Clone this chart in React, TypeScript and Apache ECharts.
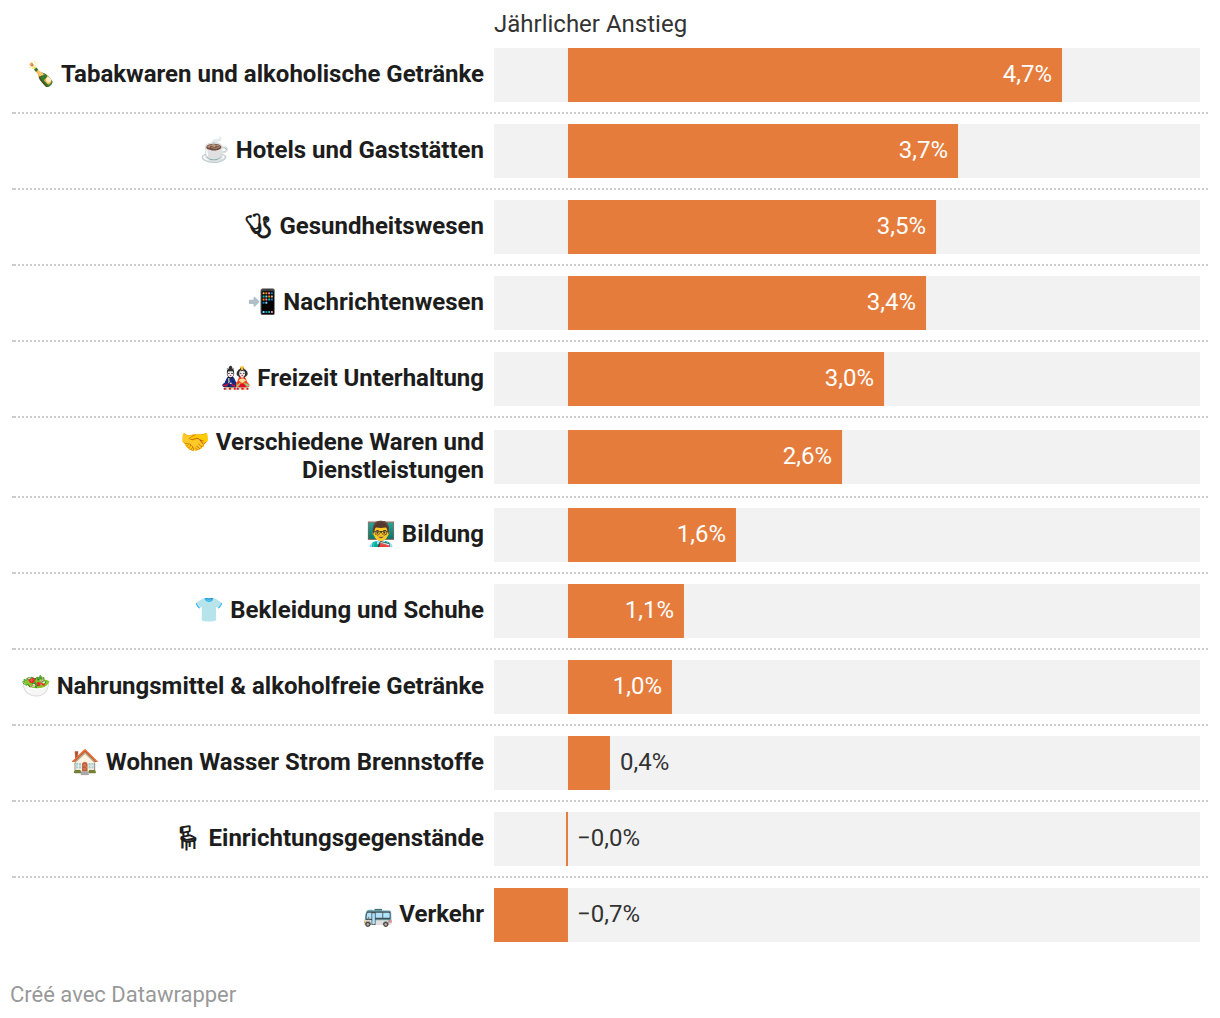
import React, { useEffect, useRef } from "react";
import * as echarts from "echarts";

const emojis = ["🍾", "☕", "🩺\uFE0E", "📲", "🎎", "🤝", "👨‍🏫", "👕", "🥗", "🏠", "🪑\uFE0E", "🚌"];
const categories = [
  "Tabakwaren und alkoholische Getränke",
  "Hotels und Gaststätten",
  "Gesundheitswesen",
  "Nachrichtenwesen",
  "Freizeit Unterhaltung",
  "Verschiedene Waren und\nDienstleistungen",
  "Bildung",
  "Bekleidung und Schuhe",
  "Nahrungsmittel & alkoholfreie Getränke",
  "Wohnen Wasser Strom Brennstoffe",
  "Einrichtungsgegenstände",
  "Verkehr",
];
const values = [4.741, 3.743, 3.532, 3.436, 3.033, 2.63, 1.612, 1.113, 0.998, 0.403, -0.019, -0.71];
const labels = ["4,7%", "3,7%", "3,5%", "3,4%", "3,0%", "2,6%", "1,6%", "1,1%", "1,0%", "0,4%", "−0,0%", "−0,7%"];
const INSIDE_FROM = 0.5;
const ROW_GROUPS = [[0, 5], [5, 6], [6, 12]];
const GRID_TOPS = [37, 417, 497];
const GRID_BOTTOMS = [417, 497, 953];
const SEPARATORS = [113, 189, 265, 341, 417, 497, 573, 649, 725, 801, 877];
const LABEL_LIFT = 1;

export default function App() {
  const ref = useRef<HTMLDivElement>(null);
  useEffect(() => {
    const chart = echarts.init(ref.current!, null, { renderer: "svg" });
    const font = "Roboto";
    const n = ROW_GROUPS.length;
    const xAxisFor = (gridIndex: number) => ({ gridIndex, type: "value", min: -0.71, max: 6.065, show: false });
    chart.setOption({
      animation: false,
      textStyle: { fontFamily: font },
      grid: [
        ...ROW_GROUPS.map((_, i) => ({ left: 494, width: 706, top: GRID_TOPS[i], height: GRID_BOTTOMS[i] - GRID_TOPS[i] })),
        ...ROW_GROUPS.map((_, i) => ({ left: 494, width: 706, top: GRID_TOPS[i] - LABEL_LIFT, height: GRID_BOTTOMS[i] - GRID_TOPS[i] })),
      ],
      xAxis: [...ROW_GROUPS.map((_, i) => xAxisFor(i)), ...ROW_GROUPS.map((_, i) => xAxisFor(i + n))],
      yAxis: [
        ...ROW_GROUPS.map(([a, b], i) => ({
          gridIndex: i, type: "category", inverse: true, data: categories.slice(a, b),
          axisLine: { show: false }, axisTick: { show: false }, axisLabel: { show: false },
        })),
        ...ROW_GROUPS.map(([a, b], i) => ({
          gridIndex: i + n, type: "category", inverse: true, data: categories.slice(a, b),
          axisLine: { show: false }, axisTick: { show: false }, axisLabel: {
            margin: 10, color: "#1d1d1d", fontSize: 24, fontWeight: 700, fontFamily: font, lineHeight: 28,
            formatter: (v: string) => emojis[categories.indexOf(v)] + " " + v,
          },
        })),
      ],
      series: ROW_GROUPS.map(([a, b], i) => ({
        type: "bar", xAxisIndex: i, yAxisIndex: i, barWidth: 54,
        itemStyle: { color: "#e67c3c" },
        showBackground: true, backgroundStyle: { color: "#f2f2f2" },
        data: values.slice(a, b).map((v, j) => {
          const inside = v > INSIDE_FROM;
          return {
            value: v,
            label: {
              show: true, formatter: labels[a + j], fontSize: 24, fontFamily: font,
              position: inside ? "insideRight" : "right", distance: 10,
              offset: [v < 0 ? -1 : 0, -1],
              color: inside ? "#ffffff" : "#333333",
            },
          };
        }),
      })),
      graphic: [
        { type: "text", left: 494, top: 12, style: { text: "Jährlicher Anstieg", font: "24px Roboto", fill: "#333" } },
        { type: "text", left: 10, top: 983, style: { text: "Créé avec Datawrapper", font: "22px Roboto", fill: "#999" } },
        ...SEPARATORS.flatMap((y) => [
          { type: "line", shape: { x1: 14, x2: 1208, y1: y, y2: y }, style: { stroke: "#ccc", lineWidth: 2, lineDash: [2, 2] } },
          { type: "line", shape: { x1: 12, x2: 14, y1: y, y2: y }, style: { stroke: "#ccc", lineWidth: 2 } },
        ]),
      ],
    });
    return () => chart.dispose();
  }, []);
  return <div ref={ref} style={{ position: "absolute", left: 0, top: 0, width: 1220, height: 1018 }} />;
}
